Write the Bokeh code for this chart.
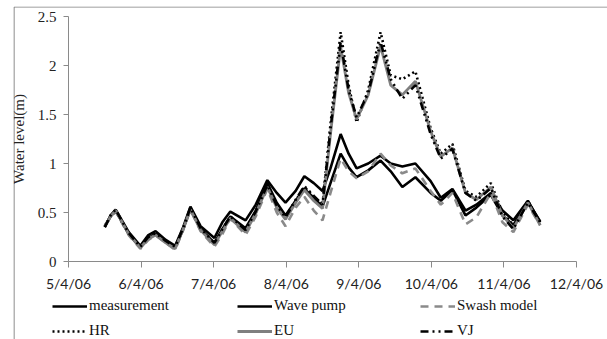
from bokeh.plotting import figure
from bokeh.models import Range1d, FixedTicker, Legend, LegendItem
from bokeh.embed import file_html
from bokeh.resources import INLINE

# time in days of April 2006
t = [5.50, 5.58, 5.65, 5.83, 5.99, 6.10, 6.20, 6.34, 6.47, 6.58, 6.68, 6.82,
     7.01, 7.12, 7.23, 7.44, 7.58, 7.74, 7.87, 7.99, 8.13, 8.25, 8.38, 8.50,
     8.61, 8.75, 8.86, 8.97, 9.13, 9.30, 9.44, 9.60, 9.78, 9.99, 10.13, 10.29,
     10.47, 10.62, 10.82, 10.98, 11.13, 11.33, 11.50]

measurement = [0.35, 0.47, 0.53, 0.30, 0.16, 0.27, 0.31, 0.22, 0.16, 0.35, 0.56, 0.36,
               0.24, 0.40, 0.51, 0.42, 0.58, 0.83, 0.70, 0.60, 0.72, 0.87, 0.80, 0.72,
               0.95, 1.30, 1.10, 0.95, 1.00, 1.08, 1.00, 0.97, 1.00, 0.82, 0.65, 0.74,
               0.52, 0.58, 0.70, 0.52, 0.42, 0.62, 0.40]
wave_pump = [0.36, 0.46, 0.52, 0.28, 0.14, 0.24, 0.28, 0.20, 0.14, 0.33, 0.54, 0.33,
             0.19, 0.33, 0.46, 0.34, 0.52, 0.80, 0.60, 0.47, 0.62, 0.74, 0.65, 0.56,
             0.80, 1.10, 0.96, 0.86, 0.93, 1.03, 0.92, 0.76, 0.86, 0.70, 0.62, 0.73,
             0.47, 0.55, 0.68, 0.47, 0.37, 0.61, 0.41]
swash = [0.37, 0.45, 0.51, 0.27, 0.13, 0.22, 0.27, 0.19, 0.12, 0.32, 0.53, 0.31,
         0.15, 0.28, 0.44, 0.27, 0.46, 0.74, 0.50, 0.36, 0.55, 0.66, 0.52, 0.42,
         0.70, 1.05, 0.92, 0.85, 0.92, 1.10, 0.98, 0.90, 0.95, 0.72, 0.58, 0.70,
         0.38, 0.45, 0.70, 0.40, 0.30, 0.58, 0.37]
hr = [0.36, 0.46, 0.52, 0.28, 0.15, 0.24, 0.28, 0.20, 0.14, 0.33, 0.54, 0.33,
      0.18, 0.32, 0.45, 0.31, 0.50, 0.77, 0.56, 0.44, 0.62, 0.76, 0.66, 0.58,
      1.40, 2.34, 1.80, 1.42, 1.75, 2.34, 1.90, 1.86, 1.94, 1.36, 1.10, 1.20,
      0.72, 0.66, 0.80, 0.50, 0.37, 0.62, 0.38]
eu = [0.36, 0.46, 0.52, 0.28, 0.14, 0.23, 0.27, 0.19, 0.13, 0.33, 0.53, 0.32,
      0.17, 0.31, 0.44, 0.30, 0.49, 0.76, 0.55, 0.43, 0.60, 0.73, 0.62, 0.54,
      1.30, 2.19, 1.72, 1.45, 1.70, 2.20, 1.80, 1.70, 1.84, 1.33, 1.07, 1.16,
      0.70, 0.63, 0.76, 0.47, 0.34, 0.60, 0.37]
vj = [0.35, 0.47, 0.53, 0.29, 0.15, 0.25, 0.29, 0.21, 0.15, 0.34, 0.55, 0.34,
      0.19, 0.33, 0.46, 0.32, 0.51, 0.78, 0.57, 0.45, 0.63, 0.77, 0.67, 0.58,
      1.35, 2.24, 1.75, 1.47, 1.72, 2.24, 1.86, 1.66, 1.80, 1.30, 1.05, 1.15,
      0.70, 0.62, 0.75, 0.46, 0.33, 0.60, 0.40]

x_ticks = [5, 6, 7, 8, 9, 10, 11, 12]
x_tick_labels = ["5/4/06", "6/4/06", "7/4/06", "8/4/06", "9/4/06", "10/4/06", "11/4/06", "12/4/06"]
y_ticks = [0, 0.5, 1, 1.5, 2, 2.5]
y_tick_labels = ["0", "0.5", "1", "1.5", "2", "2.5"]

GREY = "#8a8a8a"
SERIF = "Liberation Serif"

# ---- layout (canvas pixels; Bokeh's page has no body margin) ----
W, H = 607, 339
FRAME_L, FRAME_T = 13, 6                 # chart-area border (left / top)
AX_X0, AX_X1 = 68, 576                   # pixel of first / last x tick
AX_Y0, AX_Y1 = 261, 16                   # pixel of y = 0 / y = 2.5
kx = (AX_X1 - AX_X0) / (x_ticks[-1] - x_ticks[0])
ky = (AX_Y0 - AX_Y1) / (y_ticks[-1] - y_ticks[0])
x_start = x_ticks[0] - (AX_X0 - FRAME_L) / kx
x_end = x_ticks[-1] + (W - AX_X1) / kx
y_end = y_ticks[-1] + (AX_Y1 - FRAME_T) / ky
y_start = y_ticks[0] - (H - AX_Y0) / ky

p = figure(width=W, height=H, output_backend="svg", toolbar_location=None,
           x_range=Range1d(x_start, x_end), y_range=Range1d(y_start, y_end),
           min_border_left=FRAME_L, min_border_right=0,
           min_border_top=FRAME_T, min_border_bottom=0,
           outline_line_color=None)
p.xgrid.visible = False
p.ygrid.visible = False

# chart-area border (left and top edges; the rest lies outside the picture)
bx = x_ticks[0] - (AX_X0 - FRAME_L - 0.5) / kx
by = y_ticks[-1] + (AX_Y1 - FRAME_T - 0.5) / ky
p.segment(x0=[bx, bx], y0=[y_start, by], x1=[bx, x_end], y1=[by, by],
          line_color="#808080", line_width=1.2)

r_meas = p.line(t, measurement, line_color="black", line_width=2.6)
r_wave = p.line(t, wave_pump, line_color="black", line_width=2.6)
r_swash = p.line(t, swash, line_color=GREY, line_width=2.6, line_dash="8 6")
r_hr = p.line(t, hr, line_color="black", line_width=2.6, line_dash="2 3")
r_eu = p.line(t, eu, line_color="#7f7f7f", line_width=2.8)
r_vj = p.line(t, vj, line_color="black", line_width=2.6, line_dash="8 4 2 4 2 4")

xa = p.xaxis[0]
xa.fixed_location = y_ticks[0]
xa.bounds = (x_ticks[0], x_ticks[-1])
xa.ticker = FixedTicker(ticks=x_ticks)
xa.major_label_overrides = {k: v for k, v in zip(x_ticks, x_tick_labels)}
xa.axis_line_color = GREY
xa.major_tick_line_color = GREY
xa.major_tick_out = 6
xa.major_tick_in = 0
xa.minor_tick_line_color = None
xa.major_label_text_font = "Lato"
xa.major_label_text_font_size = "14px"
xa.major_label_text_color = "#222222"
xa.major_label_standoff = 7

ya = p.yaxis[0]
ya.fixed_location = x_ticks[0]
ya.bounds = (y_ticks[0], y_ticks[-1])
ya.ticker = FixedTicker(ticks=y_ticks)
ya.major_label_overrides = {k: v for k, v in zip(y_ticks, y_tick_labels)}
ya.axis_line_color = GREY
ya.major_tick_line_color = GREY
ya.major_tick_out = 5
ya.major_tick_in = 0
ya.minor_tick_line_color = None
ya.major_label_text_font = SERIF
ya.major_label_text_font_size = "15px"
ya.major_label_text_color = "#222222"
ya.major_label_standoff = 7
ya.axis_label = "Water level(m)"
ya.axis_label_text_font = SERIF
ya.axis_label_text_font_size = "15px"
ya.axis_label_text_font_style = "normal"
ya.axis_label_text_color = "#222222"
ya.axis_label_standoff = 8

cols = [
    ([("measurement", r_meas), ("HR", r_hr)], 52),
    ([("Wave pump", r_wave), ("EU", r_eu)], 237),
    ([("Swash model", r_swash), ("VJ", r_vj)], 420),
]
for items, xpx in cols:
    lg = Legend(items=[LegendItem(label=lab, renderers=[r]) for lab, r in items],
                location=(xpx - FRAME_L, 0), orientation="vertical",
                padding=0, margin=0, spacing=8,
                glyph_width=35, glyph_height=16, label_height=16, label_standoff=2,
                label_text_font=SERIF, label_text_font_size="15px",
                label_text_color="#111111",
                border_line_color=None, background_fill_alpha=0)
    p.add_layout(lg, "center")

open("out.html", "w").write(file_html(p, INLINE))
